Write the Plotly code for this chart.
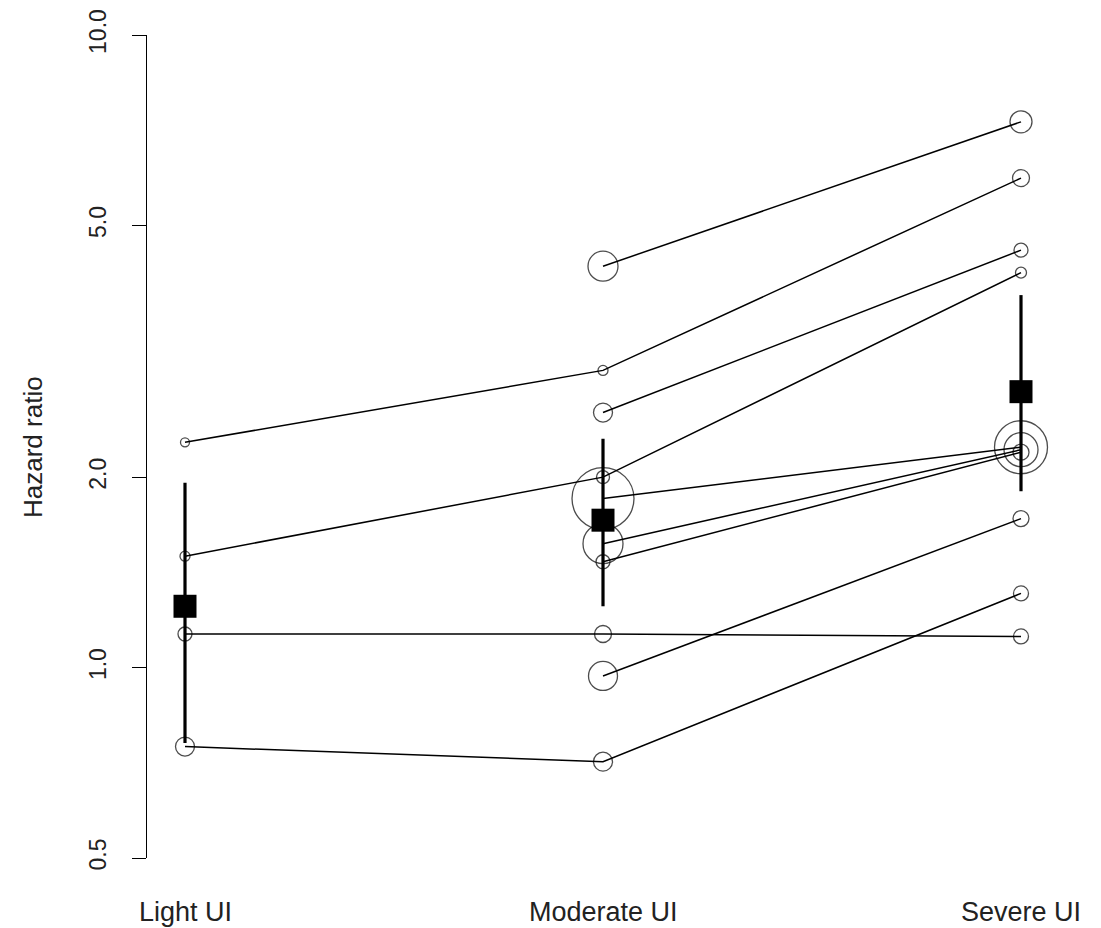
import plotly.graph_objects as go
import math

categories = ["Light UI", "Moderate UI", "Severe UI"]
cat_pos = [1, 2, 3]

# study-level hazard ratios (None = not reported)
study_hr = [
    [2.27, 2.95, 5.94],
    [None, 4.31, 7.29],
    [None, 2.53, 4.57],
    [1.50, 2.00, 4.21],
    [None, 1.85, 2.23],
    [None, 1.57, 2.21],
    [None, 1.47, 2.19],
    [1.13, 1.13, 1.12],
    [None, 0.97, 1.72],
    [0.75, 0.71, 1.31],
]
# study weights shown as circle diameters
study_size = [
    [9, 10, 17],
    [0, 30, 22],
    [0, 19, 14],
    [10, 13, 11],
    [0, 62, 53],
    [0, 40, 34],
    [0, 14, 16],
    [14, 17, 15],
    [0, 29, 16],
    [19, 19, 15],
]

pooled_hr = [1.25, 1.71, 2.73]
pooled_lo = [0.76, 1.25, 1.90]
pooled_hi = [1.96, 2.30, 3.88]

ytick_vals = [0.5, 1.0, 2.0, 5.0, 10.0]
ytick_text = ["0.5", "1.0", "2.0", "5.0", "10.0"]

FONT = "Liberation Sans, Arial, sans-serif"

fig = go.Figure()

for hrs, sizes in zip(study_hr, study_size):
    xs = [p for p, v in zip(cat_pos, hrs) if v is not None]
    ys = [v for v in hrs if v is not None]
    ss = [s for s, v in zip(sizes, hrs) if v is not None]
    fig.add_trace(go.Scatter(
        x=xs, y=ys, mode="lines+markers",
        line=dict(color="black", width=1.5),
        marker=dict(symbol="circle-open", size=ss, color="black",
                    line=dict(width=1.3, color="black")),
        showlegend=False, hoverinfo="skip",
    ))

fig.add_trace(go.Scatter(
    x=cat_pos, y=pooled_hr, mode="markers",
    marker=dict(symbol="square", size=23, color="black"),
    error_y=dict(type="data", symmetric=False,
                 array=[h - m for h, m in zip(pooled_hi, pooled_hr)],
                 arrayminus=[m - l for m, l in zip(pooled_hr, pooled_lo)],
                 color="black", thickness=3.2, width=0),
    showlegend=False,
))

# page body adds ~8px offset; compensate so plot lands where the reference has it
OX, OY = 8, 8
L, T, W, H = 147 - OX, 35 - OY, 912, 823
FW, FH = 1101, 928
fig.update_layout(
    width=FW, height=FH,
    margin=dict(l=L, r=FW - L - W, t=T, b=FH - T - H, autoexpand=False),
    plot_bgcolor="white", paper_bgcolor="white",
    font=dict(family=FONT, color="black", size=22),
    xaxis=dict(range=[1 - 38 / 418, 3 + 38 / 418], showgrid=False, zeroline=False,
               showticklabels=False, ticks="", showline=False, automargin=False),
    yaxis=dict(type="log", range=[math.log10(0.5), 1.0],
               tickvals=ytick_vals, ticktext=ytick_text, tickangle=-90,
               ticks="outside", ticklen=14, tickwidth=1.3, tickcolor="black",
               showline=True, linecolor="black", linewidth=1.3,
               showgrid=False, zeroline=False, automargin=False,
               tickfont=dict(family=FONT, size=23, color="#222"),
               ticklabelstandoff=17),
)

for p, c in zip(cat_pos, categories):
    fig.add_annotation(x=p, y=-(912 - 858) / H, xref="x", yref="paper",
                       text=c, showarrow=False, yanchor="middle", xanchor="center",
                       font=dict(family=FONT, size=27, color="#222"))

fig.add_annotation(x=(33 - 147) / W, y=1 - (447 - 35) / H, xref="paper", yref="paper",
                   text="Hazard ratio", textangle=-90, showarrow=False,
                   xanchor="center", yanchor="middle",
                   font=dict(family=FONT, size=26, color="#222"))

fig.write_html("out.html")
